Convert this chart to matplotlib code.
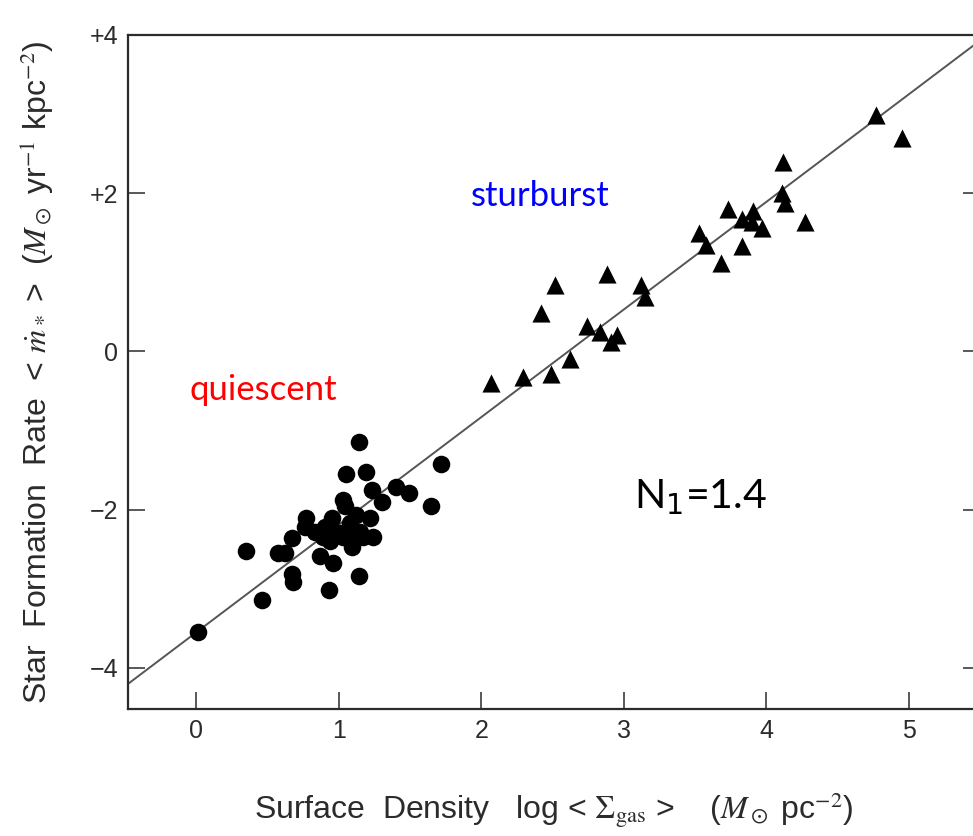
import numpy as np
import matplotlib
matplotlib.use("Agg")
from matplotlib import pyplot as plt

# quiescent disks (circles): log gas surface density, log SFR
disk_x = [0.01, 0.46, 0.35, 0.57, 0.62, 0.67, 0.67, 0.68, 0.77, 0.76,
          0.83, 0.87, 0.89, 0.95, 0.93, 0.96, 0.94, 1.00, 1.03, 1.04,
          1.05, 1.08, 1.09, 1.12, 1.15, 1.14, 1.19, 1.22, 1.23, 1.14,
          1.24, 1.30, 1.40, 1.49, 1.65, 1.72, 0.90, 1.08, 1.03, 1.17]
disk_y = [-3.55, -3.14, -2.52, -2.55, -2.55, -2.36, -2.81, -2.91, -2.11, -2.22,
          -2.28, -2.58, -2.34, -2.11, -3.01, -2.67, -2.39, -2.30, -1.88, -1.96,
          -1.55, -2.30, -2.47, -2.07, -2.28, -1.15, -1.53, -2.11, -1.75, -2.84,
          -2.34, -1.90, -1.72, -1.79, -1.96, -1.42, -2.22, -2.17, -2.34, -2.34]

# starbursts (triangles)
burst_x = [2.07, 2.29, 2.49, 2.62, 2.74, 2.83, 2.91, 2.95, 2.42, 2.52,
           2.88, 3.12, 3.15, 3.53, 3.58, 3.68, 3.83, 3.73, 3.83, 3.91,
           3.90, 3.97, 4.12, 4.11, 4.13, 4.77, 4.95, 4.27]
burst_y = [-0.40, -0.32, -0.28, -0.10, 0.32, 0.25, 0.12, 0.21, 0.48, 0.84,
           0.98, 0.84, 0.69, 1.50, 1.35, 1.12, 1.33, 1.80, 1.67, 1.77,
           1.64, 1.56, 2.40, 2.00, 1.88, 2.99, 2.70, 1.64]

# schmidt law fit
fit_slope = 1.36
fit_icpt = -3.55

xticks = [0, 1, 2, 3, 4, 5]
yticks = [-4, -2, 0, 2, 4]
ytick_labels = ['\u22124', '\u22122', '0', '+2', '+4']

plt.rcParams['font.family'] = ['Liberation Sans', 'DejaVu Sans']
plt.rcParams['mathtext.fontset'] = 'stix'

ink = '#2b2b2b'

fig = plt.figure(figsize=(9.73, 8.36), dpi=100)
ax = fig.add_axes([128/973, 1-709/836, (980-128)/973, (709-35)/836])

ax.set_xlim(-0.48, 5.5)
ax.set_ylim(-4.52, 4.0)

xl = np.array(ax.get_xlim())
ax.plot(xl, fit_slope*xl + fit_icpt, color='#555555', lw=1.4, zorder=2)

ax.scatter(disk_x, disk_y, s=160, marker='o', color='black', zorder=3, linewidths=0)
ax.scatter(burst_x, burst_y, s=170, marker='^', color='black', zorder=3, linewidths=0)

for side in ['left', 'bottom', 'top', 'right']:
    ax.spines[side].set_linewidth(1.6)
    ax.spines[side].set_color(ink)

ax.set_xticks(xticks)
ax.set_yticks(yticks)
ax.set_yticklabels(ytick_labels)
ax.tick_params(direction='in', length=12, width=1.1, color=ink, labelcolor=ink,
               labelsize=18, pad=7, right=True, top=False)

ax.set_xlabel(r'Surface  Density   log < $\Sigma_{\rm gas}$ >    ($M_\odot$ pc$^{-2}$)',
              fontsize=23, color=ink)
ax.xaxis.set_label_coords(0.5, -0.12)
ax.set_ylabel(r'Star  Formation  Rate  < $\dot{m}_*$ >  ($M_\odot$ yr$^{-1}$ kpc$^{-2}$)',
              fontsize=23, color=ink)
ax.yaxis.set_label_coords(-0.085, 0.5)

label_font = ['Lato', 'DejaVu Sans']
ax.text(2.41, 1.97, 'sturburst', color='#0000ff', fontsize=25, family=label_font,
        ha='center', va='center')
ax.text(0.47, -0.49, 'quiescent', color='#ff0000', fontsize=25, family=label_font,
        ha='center', va='center')
ax.text(3.54, -1.84, r'N$_1$=1.4', color='black', fontsize=29.5, family=label_font,
        ha='center', va='center', math_fontfamily='dejavusans')

fig.savefig('out.png', dpi=100)
